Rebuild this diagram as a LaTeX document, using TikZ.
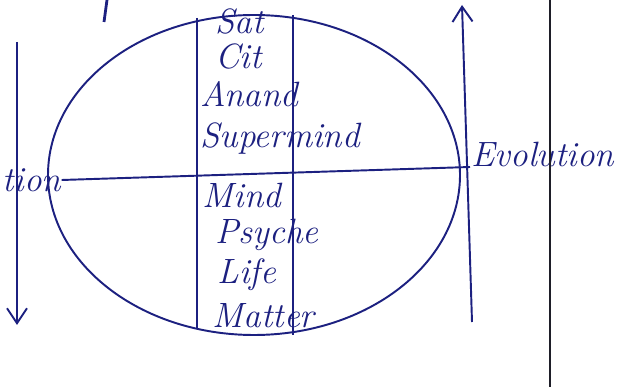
\documentclass[tikz,border=0pt]{standalone}
\usepackage{tikz}
\usetikzlibrary{arrows.meta, positioning}
\definecolor{corTinta}{RGB}{28, 32, 128}
\definecolor{corMargem}{RGB}{30, 30, 40}

\begin{document}
\begin{tikzpicture}[
    ink/.style={draw=corTinta, line width=1.1pt},
    nivel/.style={anchor=west, inner sep=0pt, text=corTinta, font=\fontsize{20}{22}\selectfont\itshape},
    seta/.style={ink, -{Straight Barb[length=3mm, width=4mm]}}
]
\fill[white] (0,0) rectangle (12.74,7.74);
\useasboundingbox (0,0) rectangle (12.74,7.74);

% oval and the column of levels
\draw[ink] (5.08,4.24) ellipse [x radius=4.12, y radius=3.2];
\coordinate (colTL) at (3.94,7.38);
\coordinate (colBL) at (3.94,1.18);
\coordinate (colTR) at (5.86,7.44);
\coordinate (colBR) at (5.86,1.04);
\draw[ink] (colTL) -- (colBL);
\draw[ink] (colTR) -- (colBR);

\node[nivel] (sat) at (4.30,7.30) {Sat};
\node[nivel] (cit) at (4.30,6.60) {Cit};
\node[nivel] (anand) at (4.00,5.86) {Anand};
\node[nivel] (supermind) at (4.00,4.96) {Supermind};
\node[nivel] (mind) at (4.05,3.84) {Mind};
\node[nivel] (psyche) at (4.30,3.04) {Psyche};
\node[nivel] (life) at (4.35,2.24) {Life};
\node[nivel] (matter) at (4.25,1.42) {Matter};

% side labels and the dividing line
\node[nivel] (inv) at (0.04,4.14) {tion};
\node[nivel] (evo) at (9.42,4.66) {Evolution};
\coordinate (linhaR) at (9.40,4.40);
\draw[ink] (inv.east) -- (linhaR);

% arrows
\coordinate (invTop) at (0.34,6.90);
\coordinate (invBot) at (0.34,1.24);
\draw[seta] (invTop) -- (invBot);
\coordinate (evoBot) at (9.44,1.30);
\coordinate (evoTop) at (9.24,7.64);
\draw[seta] (evoBot) -- (evoTop);

% stray stroke and page margin
\coordinate (trTop) at (2.14,7.74);
\coordinate (trBot) at (2.08,7.30);
\draw[ink, line width=1.6pt] (trTop) -- (trBot);
\coordinate (margTop) at (11.0,7.74);
\coordinate (margBot) at (11.0,0);
\draw[draw=corMargem, line width=1.2pt] (margTop) -- (margBot);
\end{tikzpicture}
\end{document}
